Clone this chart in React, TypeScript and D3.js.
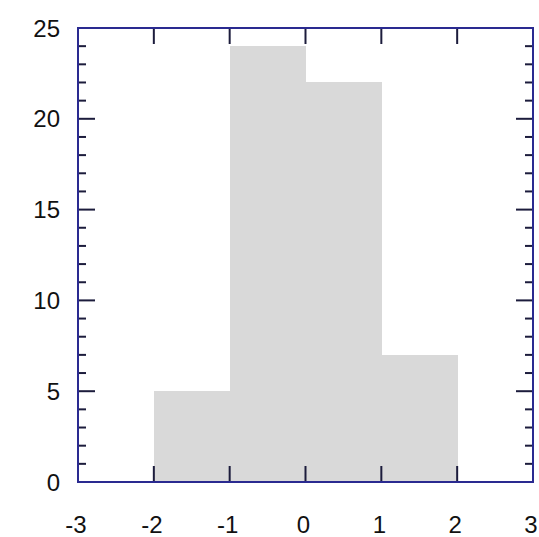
import { useEffect, useRef } from "react";
import * as d3 from "d3";

// histogram bins and counts
const binEdges = [-2, -1, 0, 1, 2];
const binCounts = [5, 24, 22, 7];
const xTicks = [-3, -2, -1, 0, 1, 2, 3];
const yMajorTicks = [0, 5, 10, 15, 20, 25];
const yMinorTicks = d3.range(0, 26);

const width = 539;
const height = 537;
const margin = { top: 28, right: 6, bottom: 55, left: 78 };

export default function App() {
  const svgRef = useRef<SVGSVGElement>(null);

  useEffect(() => {
    if (!svgRef.current) return;
    const svg = d3.select(svgRef.current);
    svg.selectAll("*").remove();

    const chartWidth = width - margin.left - margin.right;
    const chartHeight = height - margin.top - margin.bottom;

    const xScale = d3.scaleLinear().domain([-3, 3]).range([0, chartWidth]);
    const yScale = d3.scaleLinear().domain([0, 25]).range([chartHeight, 0]);

    const g = svg.append("g")
      .attr("transform", `translate(${margin.left},${margin.top})`);

    const bins = binCounts.map((c, i) => ({ x0: binEdges[i], x1: binEdges[i + 1], count: c }));

    // bars
    g.selectAll("rect.bar")
      .data(bins)
      .join("rect")
      .attr("class", "bar")
      .attr("x", d => xScale(d.x0))
      .attr("y", d => yScale(d.count))
      .attr("width", d => xScale(d.x1) - xScale(d.x0) + 0.5)
      .attr("height", d => yScale(0) - yScale(d.count))
      .attr("fill", "#d9d9d9")
      .attr("shape-rendering", "crispEdges");

    const tickColor = "#1c1c3c";

    // x ticks bottom and top (inward)
    g.append("g")
      .selectAll("line")
      .data(xTicks)
      .join("line")
      .attr("x1", d => xScale(d))
      .attr("x2", d => xScale(d))
      .attr("y1", chartHeight)
      .attr("y2", chartHeight - 16)
      .attr("stroke", tickColor)
      .attr("stroke-width", 2);

    g.append("g")
      .selectAll("line")
      .data(xTicks)
      .join("line")
      .attr("x1", d => xScale(d))
      .attr("x2", d => xScale(d))
      .attr("y1", 0)
      .attr("y2", 16)
      .attr("stroke", tickColor)
      .attr("stroke-width", 2);

    // y ticks left and right (inward), minor every unit
    const tickLen = (d: number) => (d % 5 === 0 ? 17 : 8);

    g.append("g")
      .selectAll("line")
      .data(yMinorTicks)
      .join("line")
      .attr("x1", 0)
      .attr("x2", d => tickLen(d))
      .attr("y1", d => yScale(d))
      .attr("y2", d => yScale(d))
      .attr("stroke", tickColor)
      .attr("stroke-width", 2);

    g.append("g")
      .selectAll("line")
      .data(yMinorTicks)
      .join("line")
      .attr("x1", chartWidth)
      .attr("x2", d => chartWidth - tickLen(d))
      .attr("y1", d => yScale(d))
      .attr("y2", d => yScale(d))
      .attr("stroke", tickColor)
      .attr("stroke-width", 2);

    // frame
    g.append("rect")
      .attr("x", 0)
      .attr("y", 0)
      .attr("width", chartWidth)
      .attr("height", chartHeight)
      .attr("fill", "none")
      .attr("stroke", "#2a2a90")
      .attr("stroke-width", 2);

    // tick labels
    g.append("g")
      .selectAll("text")
      .data(xTicks)
      .join("text")
      .attr("x", d => xScale(d) - 2)
      .attr("y", chartHeight + 51)
      .attr("text-anchor", "middle")
      .attr("font-family", "Liberation Sans, Arial, sans-serif")
      .attr("font-size", "24px")
      .attr("fill", "#111")
      .text(d => String(d));

    g.append("g")
      .selectAll("text")
      .data(yMajorTicks)
      .join("text")
      .attr("x", -18)
      .attr("y", d => yScale(d))
      .attr("dy", "0.36em")
      .attr("text-anchor", "end")
      .attr("font-family", "Liberation Sans, Arial, sans-serif")
      .attr("font-size", "24px")
      .attr("fill", "#111")
      .text(d => String(d));
  }, []);

  return (
    <svg
      ref={svgRef}
      width={width}
      height={height}
      style={{ position: "absolute", left: 0, top: 0, background: "#fff" }}
    />
  );
}
